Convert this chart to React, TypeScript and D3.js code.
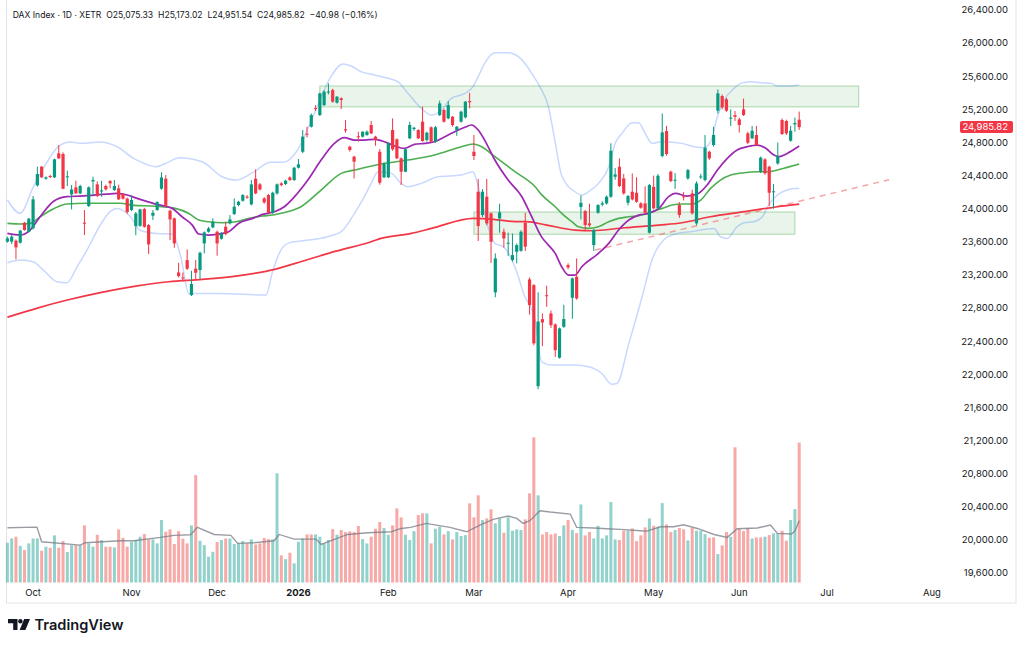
import * as d3 from "d3";

// ---- data ----
const opens = [
  23602, 23602, 23614, 23589, 23831, 23722, 23763, 24282, 24508, 24363,
  24395, 24379, 24669, 24661, 24383, 24173, 24258, 24185, 23831, 24032,
  24330, 24294, 24208, 24274, 24334, 24226, 24246, 24177, 24121, 23984,
  23790, 23794, 23996, 23802, 23915, 23984, 24241, 24362, 23975, 23883,
  23230, 23170, 23379, 22957, 23275, 23259, 23581, 23722, 23774, 23722,
  23637, 23782, 23823, 23935, 24044, 24096, 24145, 24052, 24362, 24294,
  24125, 24165, 23951, 24185, 24306, 24298, 24378, 24346, 24495, 24688,
  24905, 24990, 25215, 25131, 25252, 25405, 25433, 25280, 25333, 24960,
  24749, 24628, 24875, 24870, 24890, 25011, 24870, 24688, 24379, 24379,
  24950, 24838, 24608, 24447, 24850, 24962, 24950, 25051, 24829, 24983,
  24809, 25131, 25192, 25091, 25111, 24950, 25051, 25103, 25300, 24688,
  24205, 23923, 24145, 23944, 22989, 23883, 23722, 23578, 23380, 23480,
  23492, 23830, 23146, 23077, 21857, 22666, 22955, 22735, 22602, 22200,
  22574, 23319, 22924, 23178, 24020, 23971, 23823, 23561, 23951, 24050,
  24064, 24145, 24386, 24507, 24366, 24072, 24205, 24193, 24064, 24064,
  23710, 24265, 24004, 24636, 24938, 24447, 24340, 24044, 24150, 24366,
  24185, 23823, 24380, 24346, 24688, 24769, 25184, 25361, 25321, 25091,
  25130, 25079, 25200, 24910, 24850, 24890, 24447, 24596, 24507, 24200,
  24547, 25071, 25059, 24821, 25019, 25075.33,
];
const highs = [
  23662, 23682, 23630, 23745, 23840, 23890, 24153, 24508, 24515, 24390,
  24410, 24605, 24769, 24680, 24459, 24286, 24338, 24290, 23984, 24270,
  24387, 24330, 24338, 24290, 24346, 24346, 24290, 24190, 24135, 24160,
  23960, 24000, 24010, 23815, 23983, 24090, 24439, 24406, 23990, 23895,
  23347, 23230, 23508, 23250, 23380, 23480, 23725, 23780, 23883, 23735,
  23715, 23843, 23923, 24124, 24095, 24175, 24165, 24346, 24475, 24310,
  24140, 24180, 24205, 24305, 24320, 24350, 24390, 24505, 24600, 24950,
  24990, 25150, 25250, 25400, 25430, 25514, 25450, 25360, 25345, 25070,
  24760, 24640, 24930, 24935, 24945, 25060, 24880, 24720, 24560, 24800,
  25091, 24850, 24620, 24730, 25050, 24990, 24960, 25232, 24930, 24995,
  25000, 25305, 25210, 25300, 25120, 25000, 25185, 25300, 25400, 24890,
  24360, 24237, 24360, 23955, 23460, 24060, 23760, 23710, 23700, 23580,
  23740, 23950, 23170, 23090, 22990, 22735, 23070, 22770, 22615, 22565,
  22840, 23340, 23170, 23400, 24160, 23985, 24060, 23755, 24055, 24090,
  24160, 24790, 24490, 24608, 24420, 24165, 24426, 24380, 24080, 24270,
  24300, 24400, 24420, 25150, 25000, 24460, 24430, 24080, 24200, 24480,
  24230, 24330, 24420, 24890, 24700, 24990, 25440, 25380, 25340, 25200,
  25180, 25100, 25330, 24930, 25000, 25000, 24630, 24610, 24520, 24300,
  24800, 25090, 25075, 25000, 25100, 25173.02,
];
const lows = [
  23590, 23573, 23388, 23580, 23735, 23710, 23750, 24266, 24370, 24350,
  24370, 24370, 24600, 24235, 24274, 23992, 24180, 24175, 23682, 24020,
  24165, 24140, 24145, 24220, 24246, 24215, 24105, 24110, 23940, 23970,
  23680, 23780, 23770, 23452, 23863, 23975, 24230, 24020, 23621, 23528,
  23170, 23120, 23260, 22945, 23140, 23150, 23460, 23710, 23765, 23432,
  23625, 23680, 23810, 23925, 24030, 24085, 24120, 24040, 24175, 24220,
  24060, 23940, 23935, 24170, 24270, 24285, 24335, 24335, 24485, 24670,
  24860, 24980, 25180, 25120, 25240, 25380, 25280, 25270, 25204, 24918,
  24690, 24366, 24810, 24860, 24880, 24900, 24760, 24290, 24370, 24370,
  24700, 24600, 24286, 24440, 24840, 24940, 24842, 24810, 24810, 24800,
  24795, 25120, 25040, 25080, 24990, 24880, 25040, 25090, 25210, 24588,
  23610, 23900, 23800, 23345, 22930, 23710, 23530, 23430, 23360, 23340,
  23480, 23490, 22720, 22350, 21820, 22340, 22815, 22560, 22210, 22190,
  22560, 23270, 22670, 22900, 23870, 23730, 23780, 23490, 23940, 24030,
  24050, 24130, 24350, 24260, 24170, 24040, 24100, 24070, 24000, 23940,
  23700, 23990, 23990, 24620, 24640, 24320, 24240, 23890, 24100, 24350,
  23930, 23800, 24360, 24330, 24590, 24750, 25150, 25200, 25170, 25000,
  25060, 24920, 25120, 24780, 24840, 24760, 24430, 24410, 24030, 24000,
  24530, 24890, 24890, 24810, 24930, 24951.54,
];
const closes = [
  23642, 23662, 23533, 23735, 23743, 23879, 24113, 24419, 24379, 24379,
  24383, 24596, 24608, 24242, 24391, 24233, 24185, 24274, 23823, 24258,
  24347, 24153, 24222, 24234, 24306, 24274, 24113, 24121, 23960, 24105,
  23943, 23992, 23782, 23569, 23951, 24080, 24378, 24036, 23871, 23581,
  23186, 23162, 23275, 23090, 23226, 23468, 23714, 23762, 23843, 23581,
  23702, 23694, 23871, 24024, 24084, 24165, 24133, 24294, 24185, 24233,
  24076, 23951, 24193, 24294, 24286, 24338, 24346, 24495, 24536, 24870,
  24895, 25131, 25205, 25393, 25413, 25415, 25293, 25353, 25313, 24945,
  24709, 24568, 24865, 24930, 24930, 24910, 24830, 24314, 24540, 24789,
  24717, 24608, 24447, 24717, 25011, 24978, 24850, 24817, 24918, 24809,
  24983, 25272, 25051, 25252, 25011, 24990, 25172, 25293, 25285, 24636,
  23791, 24205, 23823, 23601, 23400, 23955, 23641, 23590, 23440, 23560,
  23722, 23541, 22836, 22373, 22638, 22626, 22950, 22594, 22292, 22554,
  22667, 23291, 23158, 22916, 24072, 23803, 23799, 23742, 24044, 24066,
  24145, 24700, 24414, 24273, 24185, 24153, 24112, 24084, 24012, 23951,
  24286, 24004, 24398, 24922, 24660, 24334, 24350, 23923, 24140, 24467,
  23944, 24306, 24390, 24737, 24608, 24890, 25393, 25224, 25184, 25100,
  25110, 25011, 25131, 24797, 24942, 24769, 24616, 24427, 24193, 24210,
  24636, 24902, 24910, 24942, 25035, 24985.82,
];
const volumes = [
  29.8, 33, 34.3, 27.5, 24.3, 29.3, 33, 33, 23.8, 26.8,
  26, 35.3, 26, 31, 22.8, 28, 28, 28, 42.8, 29.3,
  26.8, 35.8, 31.8, 26.8, 26.8, 26.3, 39.8, 33.5, 26.8, 30.5,
  31.8, 34.3, 36.3, 32.3, 32.3, 29.3, 46.8, 38, 39.8, 28.8,
  38.5, 32.8, 29.3, 42.8, 80.5, 31.3, 28, 19.3, 23, 30.3,
  31.8, 33, 33, 28.8, 29.3, 31, 29.3, 32.3, 28.5, 29.3,
  33.3, 32.5, 32.3, 81.8, 20.3, 17.5, 22.3, 14.3, 30.5, 33,
  36, 36, 36, 34.3, 29.3, 31.8, 40, 35.8, 39.3, 37.8,
  38.3, 37.8, 42.3, 32.5, 29.3, 34.3, 40.3, 45.3, 40.8, 35.8,
  42.8, 55.5, 48.8, 35.8, 31.8, 38.5, 50.5, 51.8, 51.8, 29.3,
  40.3, 41.8, 36, 38.5, 32.3, 37.8, 34.8, 35.5, 59.3, 48.8,
  65.3, 46.8, 48, 54.8, 44.3, 48, 37.3, 48.8, 38.8, 39.8,
  39.3, 47.3, 66.8, 108.8, 65.3, 36, 37.8, 36, 36.8, 34.8,
  42.8, 46.8, 39.3, 37, 58.5, 35.3, 37.8, 33, 42.5, 33,
  35.3, 60.3, 32.3, 31.8, 38.8, 38.8, 40.5, 31, 35.3, 41.3,
  48, 42.5, 41.8, 59.5, 43.5, 37.8, 39.3, 40.8, 39.8, 31.5,
  40.8, 38.8, 38.8, 36.3, 33.5, 33.8, 21.3, 27.8, 37.8, 34.3,
  101.3, 40.3, 38.5, 40.8, 33, 33.8, 33.8, 34.3, 35.5, 36.8,
  36.8, 38.8, 31.3, 46.8, 55, 104.8,
];
// volume colour per bar (G = up vs previous close, R = down)
const volumeDirs = (
  "GGRGRGGGRG" + "RGRRGGRGRG" + "GRGRRGRRRG" + "GGRRGGGRRR" + "RRRGRGGGGR" +
  "GRGGGGRGRR" + "RRGGRGRGGG" + "RRGGGGRGRR" + "RRRGGRRRGG" + "RRRGGGRRGR" +
  "GGRGRGGGRR" + "RGRRGGRGGG" + "GRRRGRRRRG" + "GRGRGRRGGG" + "GGGRRGRRRR" +
  "GRGGRRGRRG" + "RGGGRRGRRG" + "RRRRGRRGRG" + "GRRGGR"
).split("");

// indicator lines, sampled as [bar index, value]
const bbUpper: [number, number][] = [
  [0, 24105], [3, 23944], [6, 24258], [8.4, 24488], [12.3, 24769], [14.7, 24806], [17, 24790],
  [21.7, 24806], [25.6, 24749], [29.5, 24608], [31, 24568], [34.6, 24507], [37.5, 24560],
  [40.1, 24616], [45.5, 24567], [50.2, 24386], [53.4, 24346], [57.3, 24435], [61.5, 24560],
  [64.5, 24560], [67.8, 24709], [71.7, 25152], [75.6, 25595], [78.4, 25748], [80.3, 25724],
  [82.6, 25655], [85.8, 25615], [88.9, 25575], [91.2, 25534], [93.6, 25393], [96.7, 25212],
  [99.1, 25131], [101.4, 25192], [103.7, 25333], [106.9, 25393], [108.8, 25474], [110, 25595],
  [111.5, 25756], [113.9, 25885], [117, 25885], [119.4, 25836], [120.9, 25756], [122.5, 25635],
  [124.4, 25474], [126.4, 25232], [128, 24800], [129.5, 24400], [132.6, 24205], [134.2, 24165],
  [135.8, 24205], [138.1, 24306], [140.5, 24507], [142, 24789], [143.6, 24910], [146, 25039],
  [147.5, 25039], [149, 24910], [150.6, 24789], [153, 24809], [157.6, 24789], [161.2, 24741],
  [162.7, 24737], [164.3, 24809], [165.9, 25111], [167.5, 25313], [169.8, 25454], [171.3, 25514],
  [173.6, 25534], [176, 25522], [178.3, 25514], [179.9, 25482], [182.2, 25482], [185, 25494],
];
const bbLower: [number, number][] = [
  [0, 23348], [3, 23380], [6, 23360], [8.4, 23259], [11.6, 23118], [13.9, 23106], [16.3, 23300],
  [18.6, 23501], [21.7, 23803], [24, 23964], [25.6, 24004], [28.8, 23900], [31, 23740],
  [35, 23700], [38.5, 23694], [40.5, 23420], [42.4, 22977], [49.4, 22977], [60.4, 22957],
  [62, 23250], [63.9, 23500], [66, 23590], [68.6, 23610], [74.8, 23662], [78, 23722],
  [81.1, 23944], [83.4, 24145], [85, 24306], [86.6, 24447], [89.7, 24427], [92, 24306],
  [93.6, 24266], [96.7, 24306], [100.6, 24386], [106.1, 24407], [108.8, 24447], [109.6, 24346],
  [110.8, 24105], [112.3, 23783], [113.9, 23581], [115.9, 23540], [119, 23238], [120.6, 22977],
  [123.3, 22654], [124.8, 22150], [127.2, 22111], [132.6, 22111], [135.8, 22091], [138.9, 22010],
  [141.2, 21881], [142.4, 21889], [145.2, 22373], [148.3, 22936], [150.6, 23379], [153.7, 23640],
  [156.5, 23702], [159.6, 23722], [162.7, 23750], [165.1, 23762], [166.6, 23661], [168.2, 23641],
  [170.5, 23782], [172.1, 23831], [174.4, 23843], [176.4, 23903], [177.6, 24024], [179.1, 24125],
  [180.7, 24193], [182.2, 24225], [183.8, 24245], [185, 24245],
];
const maFast: [number, number][] = [
  [0, 23702], [3, 23682], [5.3, 23742], [7.6, 23900], [10.8, 24090], [13.9, 24145], [17, 24153],
  [20.2, 24165], [23.3, 24177], [25.6, 24185], [28, 24165], [30.3, 24125], [34.6, 24056],
  [38.5, 24004], [40.8, 23903], [43.2, 23802], [44.7, 23694], [47, 23681], [50.2, 23702],
  [51.7, 23722], [54, 23822], [57.3, 23883], [59.6, 23931], [62.7, 23970], [64.7, 24024],
  [67, 24140], [70.2, 24346], [73.3, 24588], [76.4, 24789], [78.7, 24858], [81.1, 24829],
  [83.4, 24829], [85.8, 24838], [88.1, 24809], [90.5, 24757], [92.8, 24729], [95.1, 24777],
  [97.5, 24789], [99.8, 24809], [102.2, 24870], [104.5, 24930], [106.9, 24983], [108.4, 25011],
  [110, 24950], [111.5, 24829], [113.9, 24588], [117, 24346], [120.2, 24145], [122.5, 23903],
  [124.8, 23660], [126.4, 23560], [128, 23460], [129.5, 23299], [131.1, 23198], [132.6, 23198],
  [134.2, 23299], [138.1, 23460], [140.5, 23581], [142.8, 23742], [145.2, 23863], [147.5, 23923],
  [149.8, 23943], [152.2, 24004], [154.5, 24145], [156.1, 24185], [158.8, 24153], [161.2, 24177],
  [163.5, 24286], [165.9, 24467], [168.2, 24608], [170.5, 24709], [172.9, 24749], [175.2, 24769],
  [177.2, 24729], [179.1, 24648], [180.3, 24628], [182.2, 24668], [185, 24757],
];
const maMid: [number, number][] = [
  [0, 23823], [3, 23815], [5.3, 23823], [7.6, 23900], [10.8, 24000], [13.9, 24057], [18.6, 24065],
  [23.3, 24065], [26.4, 24065], [29.5, 24040], [34.6, 24030], [39.2, 24004], [42.4, 23943],
  [44.7, 23863], [47, 23843], [50.2, 23830], [53.4, 23843], [56.6, 23883], [59.6, 23911],
  [62.7, 23931], [64.5, 23950], [68.6, 24024], [73.3, 24225], [78, 24427], [81.1, 24467],
  [87.3, 24539], [93.6, 24588], [99.8, 24648], [106.1, 24749], [108.8, 24781], [110.8, 24749],
  [113.9, 24628], [118.6, 24447], [123.3, 24265], [124.8, 24170], [128, 24024], [129.5, 23943],
  [131.9, 23843], [133.4, 23782], [135.8, 23762], [138.1, 23782], [140.5, 23843], [142.8, 23883],
  [145.2, 23903], [148.3, 23923], [150.6, 23963], [153, 24004], [155.3, 24044], [157.6, 24056],
  [159.6, 24056], [162, 24105], [164.3, 24245], [166.6, 24346], [169, 24407], [172.1, 24435],
  [175.2, 24447], [177.6, 24447], [179.9, 24467], [182.2, 24499], [185, 24539],
];
const maSlow: [number, number][] = [
  [0, 22690], [7, 22800], [14, 22897], [22, 22990], [30, 23065], [37.7, 23118], [45.6, 23146],
  [53.4, 23186], [62.7, 23270], [69.3, 23372], [77, 23490], [85, 23601], [87.3, 23641],
  [94.4, 23702], [99.1, 23762], [108.9, 23883], [113.6, 23871], [118.6, 23843], [121.3, 23843],
  [126, 23802], [132.6, 23742], [136.5, 23734], [144.3, 23770], [152.3, 23802], [157.6, 23830],
  [164.2, 23903], [172.2, 23964], [179.9, 24024], [185, 24056],
];
const volumeMa: [number, number][] = [
  [0, 41], [6.9, 41.5], [8, 30.5], [17, 28], [18.2, 29.8], [26.4, 31.3], [29.5, 31.3], [35.8, 33.8],
  [38.9, 35.3], [42.8, 35.8], [44.4, 41.3], [48.3, 36], [52.2, 35.3], [53.8, 29.3], [57.6, 29.8],
  [62.3, 31.3], [63.5, 36], [67, 32.5], [72.1, 32.5], [73.3, 28.5], [76.4, 32.3], [79.5, 36],
  [84.2, 37.3], [89.7, 38], [92, 40.5], [94.2, 41.3], [97.9, 44.3], [100.2, 43], [103.4, 41.3],
  [107.3, 38], [110.4, 43], [113.5, 47.3], [117, 49.8], [119, 48], [120.5, 44.3], [122.1, 46.3],
  [124.4, 53.8], [126.8, 52.8], [131.5, 51.3], [133, 41.3], [137, 40.8], [140, 40.3], [143.2, 39.8],
  [147.9, 38.8], [149.4, 38.5], [152.6, 41.8], [155.7, 41.8], [158, 43.3], [161.2, 40.5],
  [165.1, 36], [168.2, 33.8], [170.5, 40.3], [175.2, 40.8], [178.3, 43], [179.9, 36.8],
  [183.2, 36.3], [184, 38.5], [185, 46.3],
];

// drawings: zones [from bar, to bar, low, high] and trend line
const zones: [number, number, number, number][] = [
  [73, 198.9, 25230, 25482],
  [109, 184, 23692, 23960],
];
const trendLine: [number, number][] = [[137.3, 23500], [206, 24350]];

const monthTicks: [string, number][] = [
  ["Oct", 6], ["Nov", 29], ["Dec", 49], ["2026", 68], ["Feb", 89], ["Mar", 109],
  ["Apr", 131], ["May", 151], ["Jun", 171], ["Jul", 191.5], ["Aug", 216],
];
const priceTicks = d3.range(19600, 26401, 400);
const lastPrice = 24985.82;
const header = "DAX Index · 1D · XETR  O25,075.33  H25,173.02  L24,951.54  C24,985.82  −40.98 (−0.16%)";

const UP = "#089981";
const DOWN = "#f23645";
const FONT = "Inter, Roboto, sans-serif";

export default function App() {
  const x = d3.scaleLinear().domain([0, 185]).range([7.4, 799.2]);
  const y = d3.scaleLinear().domain([19600, 26400]).range([573, 10]);
  const yVol = d3.scaleLinear().domain([0, d3.max(volumes) as number]).range([582.5, 437.3]);

  const line = d3.line<[number, number]>()
    .x((d) => x(d[0]))
    .y((d) => y(d[1]))
    .curve(d3.curveMonotoneX);
  const volLine = d3.line<[number, number]>()
    .x((d) => x(d[0]))
    .y((d) => yVol(d[1]));
  const fmt = d3.format(",.2f");

  return (
    <svg width={1024} height={646} style={{ position: "absolute", left: 0, top: 0, background: "#fff", fontFamily: FONT }}>
      <rect x={6.5} y={-1} width={1009.5} height={604} fill="none" stroke="#e0e3eb" />

      {/* volume */}
      {volumes.map((v, i) => (
        <rect key={"v" + i} x={x(i) - 1.5} y={yVol(v)} width={3} height={yVol(0) - yVol(v)}
          fill={volumeDirs[i] === "G" ? "rgba(38,166,154,0.5)" : "rgba(239,83,80,0.5)"} />
      ))}
      <path d={volLine(volumeMa) ?? ""} fill="none" stroke="rgba(120,123,134,0.75)" strokeWidth={1.4} />

      {/* zones */}
      {zones.map(([a, b, lo, hi], k) => (
        <rect key={"z" + k} x={x(a)} y={y(hi)} width={x(b) - x(a)} height={y(lo) - y(hi)}
          fill="rgba(76,175,80,0.12)" stroke="rgba(76,175,80,0.45)" strokeWidth={1} />
      ))}

      {/* bands and averages */}
      <path d={line(bbUpper) ?? ""} fill="none" stroke="rgba(41,98,255,0.25)" strokeWidth={1.5} />
      <path d={line(bbLower) ?? ""} fill="none" stroke="rgba(41,98,255,0.25)" strokeWidth={1.5} />
      <path d={line(maSlow) ?? ""} fill="none" stroke="#f23645" strokeWidth={1.7} />
      <path d={line(maMid) ?? ""} fill="none" stroke="#4caf50" strokeWidth={1.6} />
      <path d={line(maFast) ?? ""} fill="none" stroke="#9c27b0" strokeWidth={1.7} />
      <path d={d3.line()(trendLine.map(([i, p]) => [x(i), y(p)])) ?? ""} fill="none"
        stroke="rgba(242,54,69,0.45)" strokeWidth={1.5} strokeDasharray="6 5" />

      {/* candles */}
      {closes.map((c, i) => {
        const o = opens[i];
        const col = c >= o ? UP : DOWN;
        const top = y(Math.max(o, c));
        const bot = y(Math.min(o, c));
        return (
          <g key={"c" + i}>
            <line x1={x(i)} x2={x(i)} y1={y(highs[i])} y2={y(lows[i])} stroke={col} strokeWidth={1} />
            <rect x={x(i) - 1.6} y={top} width={3.2} height={Math.max(1, bot - top)} fill={col} />
          </g>
        );
      })}

      {/* price axis */}
      {priceTicks.map((p) => (
        <text key={"p" + p} x={1008} y={y(p)} dy="0.35em" textAnchor="end" fontSize={9.5} fill="#131722">
          {fmt(p)}
        </text>
      ))}
      <rect x={960} y={y(lastPrice) - 6} width={53} height={12} rx={2} fill="#f23645" />
      <text x={1008} y={y(lastPrice)} dy="0.35em" textAnchor="end" fontSize={9.5} fill="#fff">
        {fmt(lastPrice)}
      </text>

      {/* time axis */}
      {monthTicks.map(([m, i]) => (
        <text key={m} x={x(i)} y={593} dy="0.35em" textAnchor="middle" fontSize={9.5}
          fill="#131722" fontWeight={m === "2026" ? 700 : 400}>
          {m}
        </text>
      ))}

      {/* header */}
      <text x={12.7} y={15} dy="0.35em" fontSize={8.6} fill="#131722" style={{ whiteSpace: "pre" }}>
        {header}
      </text>

      {/* logo */}
      <g fill="#131722">
        <path d="M8 619 H17.5 V630 H13.2 V623.2 H8 Z" />
        <circle cx={20.4} cy={621.2} r={2.2} />
        <path d="M24.2 619 H30 L25.4 630 H19.6 Z" />
        <text x={34.5} y={625} dy="0.35em" fontSize={14.6} fontWeight={600}>TradingView</text>
      </g>
    </svg>
  );
}
